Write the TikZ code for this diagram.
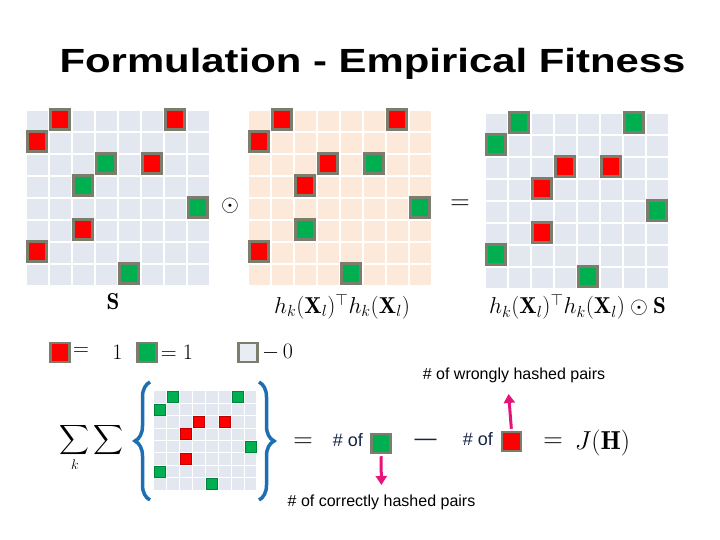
\RequirePackage{fix-cm}
\documentclass[tikz,border=0pt]{standalone}
\usepackage{exscale}
\usepackage{fontspec}
\usepackage{graphicx}
\usetikzlibrary{decorations.pathreplacing,arrows.meta}
\newfontfamily\arialfont{Liberation Sans}

\definecolor{cellblue}{RGB}{226,231,240}
\definecolor{peach}{RGB}{252,233,218}
\definecolor{sqred}{RGB}{255,0,0}
\definecolor{sqgreen}{RGB}{0,176,80}
\definecolor{sqborder}{RGB}{125,125,110}
\definecolor{braceblue}{RGB}{30,110,180}
\definecolor{navy}{RGB}{20,35,70}
\definecolor{pink}{RGB}{230,20,120}

\begin{document}
\begin{tikzpicture}[x=1pt,y=1pt,
  redcell/.style={fill=sqred,draw=sqborder,line width=2.5pt},
  greencell/.style={fill=sqgreen,draw=sqborder,line width=2.5pt},
  smallred/.style={fill=sqred,draw=sqred!75!black,line width=0.5pt},
  smallgreen/.style={fill=sqgreen,draw=sqgreen!75!black,line width=0.5pt},
  redsq/.style={rectangle,fill=sqred,draw=sqborder,line width=2.5pt,
    minimum size=19pt,inner sep=0pt},
  greensq/.style={rectangle,fill=sqgreen,draw=sqborder,line width=2.5pt,
    minimum size=19pt,inner sep=0pt},
  graysq/.style={rectangle,fill=cellblue!80!white,draw=sqborder,line width=2.5pt,
    minimum size=19pt,inner sep=0pt},
  mathlab/.style={font=\fontsize{23}{27}\selectfont},
  leglab/.style={font=\fontsize{22}{26}\selectfont},
  bigrel/.style={font=\fontsize{27}{30}\selectfont},
  hashlab/.style={font=\arialfont\fontsize{16}{19}\selectfont},
  oflab/.style={font=\arialfont\fontsize{18}{21}\selectfont,text=navy},
  bracestyle/.style={draw=braceblue,line width=3.5pt,decorate,
    decoration={brace,amplitude=15pt}},
  pinkarrow/.style={draw=pink,line width=3pt,
    -{Triangle[length=9pt,width=11pt]}}]

\useasboundingbox (0,0) rectangle (720,540);

% Titre
\node[anchor=base] (title) at (372.5,467)
{\scalebox{1.25}[1]{\arialfont\bfseries\fontsize{33.5}{40}\selectfont Formulation - Empirical Fitness}};

% S
\begin{scope}[shift={(26,254)}]
\fill[cellblue] (0,0) rectangle (184,176);
\draw[white,line width=2pt,xstep=23,ystep=22] (0,0) grid (184,176);
\end{scope}

\draw[redcell] (50.5,410.5) rectangle ++(19,20);
\draw[redcell] (165.5,410.5) rectangle ++(19,20);
\draw[redcell] (27.5,388.5) rectangle ++(19,20);
\draw[greencell] (96.5,366.5) rectangle ++(19,20);
\draw[redcell] (142.5,366.5) rectangle ++(19,20);
\draw[greencell] (73.5,344.5) rectangle ++(19,20);
\draw[greencell] (188.5,322.5) rectangle ++(19,20);
\draw[redcell] (73.5,300.5) rectangle ++(19,20);
\draw[redcell] (27.5,278.5) rectangle ++(19,20);
\draw[greencell] (119.5,256.5) rectangle ++(19,20);

\node[mathlab] (labS) at (113,238)
{$\mathbf{S}$};

\node[mathlab] (odot) at (230,334)
{$\odot$};

% h_k(X_l)^T h_k(X_l)
\begin{scope}[shift={(248,254)}]
\fill[peach] (0,0) rectangle (184,176);
\draw[white,line width=2pt,xstep=23,ystep=22] (0,0) grid (184,176);
\end{scope}

\draw[redcell] (272.5,410.5) rectangle ++(19,20);
\draw[redcell] (387.5,410.5) rectangle ++(19,20);
\draw[redcell] (249.5,388.5) rectangle ++(19,20);
\draw[redcell] (318.5,366.5) rectangle ++(19,20);
\draw[greencell] (364.5,366.5) rectangle ++(19,20);
\draw[redcell] (295.5,344.5) rectangle ++(19,20);
\draw[greencell] (410.5,322.5) rectangle ++(19,20);
\draw[greencell] (295.5,300.5) rectangle ++(19,20);
\draw[redcell] (249.5,278.5) rectangle ++(19,20);
\draw[greencell] (341.5,256.5) rectangle ++(19,20);

\node[mathlab] (labH) at (342,233.5)
{$h_k(\mathbf{X}_l)^\top h_k(\mathbf{X}_l)$};

\node[bigrel] (eqtop) at (460,335)
{$=$};

% produit
\begin{scope}[shift={(485,251)}]
\fill[cellblue] (0,0) rectangle (184,176);
\draw[white,line width=2pt,xstep=23,ystep=22] (0,0) grid (184,176);
\end{scope}

\draw[greencell] (509.5,407.5) rectangle ++(19,20);
\draw[greencell] (624.5,407.5) rectangle ++(19,20);
\draw[greencell] (486.5,385.5) rectangle ++(19,20);
\draw[redcell] (555.5,363.5) rectangle ++(19,20);
\draw[redcell] (601.5,363.5) rectangle ++(19,20);
\draw[redcell] (532.5,341.5) rectangle ++(19,20);
\draw[greencell] (647.5,319.5) rectangle ++(19,20);
\draw[redcell] (532.5,297.5) rectangle ++(19,20);
\draw[greencell] (486.5,275.5) rectangle ++(19,20);
\draw[greencell] (578.5,253.5) rectangle ++(19,20);

\node[mathlab] (labHS) at (577.5,233)
{$h_k(\mathbf{X}_l)^\top h_k(\mathbf{X}_l)\odot\mathbf{S}$};

% Legende
\node[redsq] (legred) at (60,187.5) {};
\node[leglab] (legredeq) at (81,188)
{$=$};
\node[leglab] (legone) at (117.5,188)
{$1$};

\node[greensq] (leggreen) at (147,187.5) {};
\node[leglab] (leggreeneq) at (177,188)
{$=1$};

\node[graysq] (leggray) at (248,187.5) {};
\node[leglab] (leggrayeq) at (277.5,188)
{${-}\,0$};

% Somme
\node[font=\fontsize{20}{24}\selectfont,anchor=base] (sums) at (91.5,95)
{$\displaystyle\sum_k\sum$};

\draw[bracestyle] (150,40) -- (150,158);
\draw[bracestyle] (259,158) -- (259,40);

\begin{scope}[shift={(153,49.8)}]
\fill[cellblue] (0,0) rectangle (104,99.2);
\draw[white,line width=1pt,xstep=13,ystep=12.4] (0,0) grid (104,99.2);
\end{scope}

\draw[smallgreen] (167,137.5) rectangle ++(11,11);
\draw[smallgreen] (232,137.5) rectangle ++(11,11);
\draw[smallgreen] (154,125.1) rectangle ++(11,11);
\draw[smallred] (193,112.7) rectangle ++(11,11);
\draw[smallred] (219,112.7) rectangle ++(11,11);
\draw[smallred] (180,100.3) rectangle ++(11,11);
\draw[smallgreen] (245,87.9) rectangle ++(11,11);
\draw[smallred] (180,75.5) rectangle ++(11,11);
\draw[smallgreen] (154,63.1) rectangle ++(11,11);
\draw[smallgreen] (206,50.7) rectangle ++(11,11);

% Resultat
\node[bigrel] (eqa) at (303,97)
{$=$};

\node[oflab] (ofa) at (348,100)
{\# of};
\node[greensq] (ofgreen) at (381,96.5) {};

\node[oflab,font=\arialfont\fontsize{22}{26}\selectfont] (minus) at (425.5,98)
{—};

\node[oflab] (ofb) at (478,101)
{\# of};
\node[redsq] (ofred) at (511.5,98.5) {};

\node[bigrel] (eqb) at (553,97)
{$=$};

\node[font=\fontsize{26}{30}\selectfont] (jh) at (602.5,97)
{$J(\mathbf{H})$};

\node[hashlab] (wrong) at (514,165)
{\# of wrongly hashed pairs};

\node[hashlab] (correct) at (381.5,38)
{\# of correctly hashed pairs};

\draw[pinkarrow,shorten <=2pt,shorten >=8pt]
(ofred.north)
--
([xshift=-6pt]wrong.south);

\draw[pinkarrow,shorten <=2pt,shorten >=6pt]
(ofgreen.south)
--
(correct.north);

\end{tikzpicture}
\end{document}
